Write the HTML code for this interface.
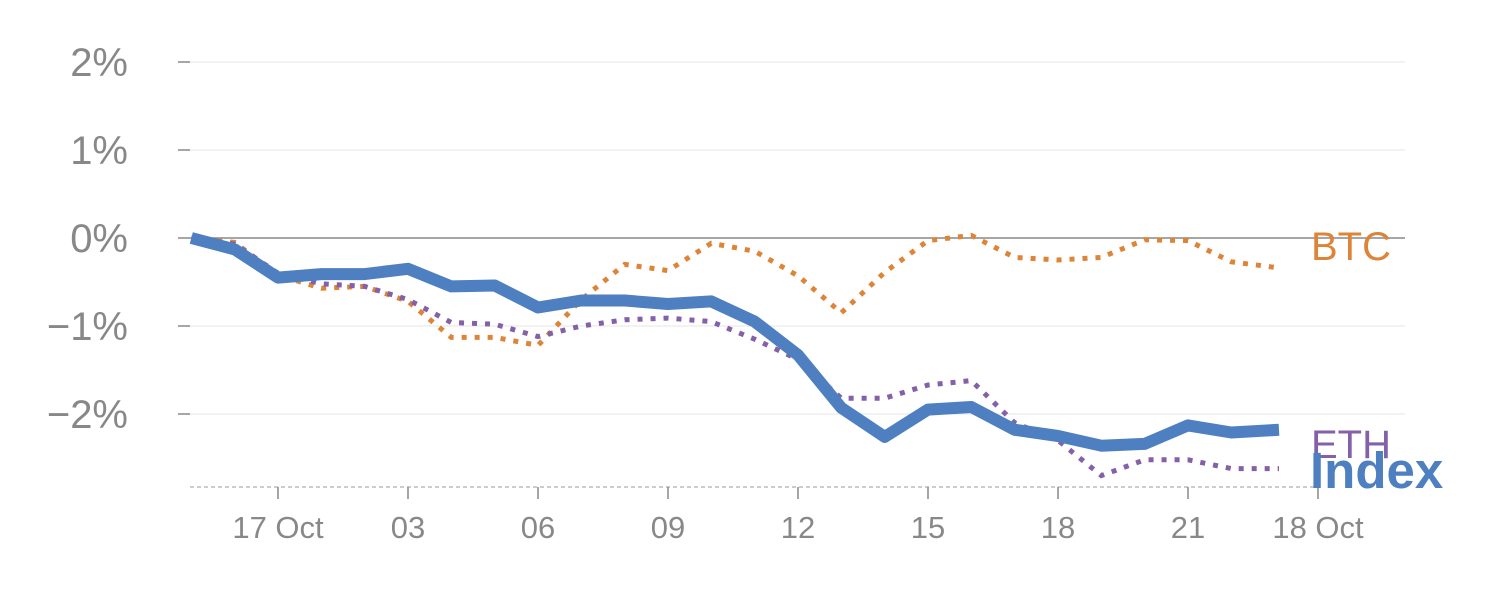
<!DOCTYPE html>
<html><head><meta charset="utf-8"><style>
html,body{margin:0;padding:0;background:#fff;}
svg{display:block;font-family:"Liberation Sans",Arial,sans-serif;}
</style></head><body>
<svg id="chart" width="1500" height="600"></svg>
<script>
const hours = [-2,-1,0,1,2,3,4,5,6,7,8,9,10,11,12,13,14,15,16,17,18,19,20,21,22,23.1];
const indexVals = [0,-0.13,-0.45,-0.41,-0.41,-0.35,-0.55,-0.54,-0.79,-0.71,-0.71,-0.75,-0.72,-0.95,-1.33,-1.93,-2.26,-1.95,-1.92,-2.18,-2.25,-2.36,-2.34,-2.13,-2.21,-2.18];
const btcVals = [0,-0.05,-0.42,-0.57,-0.55,-0.72,-1.13,-1.13,-1.22,-0.7,-0.3,-0.37,-0.06,-0.15,-0.43,-0.85,-0.39,-0.03,0.03,-0.22,-0.25,-0.22,-0.02,-0.03,-0.27,-0.34];
const ethVals = [0,-0.07,-0.40,-0.52,-0.55,-0.70,-0.96,-0.98,-1.12,-1.0,-0.93,-0.91,-0.95,-1.15,-1.38,-1.82,-1.82,-1.67,-1.62,-2.1,-2.3,-2.7,-2.52,-2.52,-2.62,-2.62];
const yTicks = [2,1,0,-1,-2];
const yTickLabels = ["2%","1%","0%","\u22121%","\u22122%"];
const xTicks = [0,3,6,9,12,15,18,21,24];
const xTickLabels = ["17 Oct","03","06","09","12","15","18","21","18 Oct"];

const NS="http://www.w3.org/2000/svg";
const svg=document.getElementById('chart');
const x=h=>278+h*(130/3);
const y=v=>238-v*88;
function el(t,a,p){const e=document.createElementNS(NS,t);for(const k in a)e.setAttribute(k,a[k]);(p||svg).appendChild(e);return e;}

yTicks.forEach((v,i)=>{
  const g=el('line',{x1:190,x2:1405,y1:y(v),y2:y(v),stroke:v===0?'#888':'#e6e6e6','stroke-width':v===0?1.5:1});
  
  
  const tk=el('line',{x1:178,x2:190,y1:y(v),y2:y(v),stroke:'#888','stroke-width':1.5});
  
  
  const t=el('text',{x:128,y:y(v)+14,'text-anchor':'end','font-size':40,fill:'#888'});
  t.textContent=yTickLabels[i];
  
  
});
const base=el('line',{x1:190,x2:1320,y1:487,y2:487,stroke:'#ccc','stroke-width':2,'stroke-dasharray':'4 3'});


xTicks.forEach((h,i)=>{
  const tk=el('line',{x1:x(h),x2:x(h),y1:487,y2:499,stroke:'#888','stroke-width':1.5});
  
  
  const t=el('text',{x:x(h),y:538,'text-anchor':'middle','font-size':31,fill:'#888'});
  t.textContent=xTickLabels[i];
  
  
});
function path(vals){return vals.map((v,i)=>(i?'L':'M')+x(hours[i]).toFixed(1)+','+y(v).toFixed(1)).join('');}
const btc=el('path',{d:path(btcVals),fill:'none',stroke:'#dd8437','stroke-width':5,'stroke-dasharray':'5 8'});


const eth=el('path',{d:path(ethVals),fill:'none',stroke:'#8360a8','stroke-width':5,'stroke-dasharray':'5 8'});


const idx=el('path',{d:path(indexVals),fill:'none',stroke:'#4e7fc0','stroke-width':12,'stroke-linejoin':'round'});



const l1=el('text',{x:1311,y:260,'font-size':40,fill:'#dd8437'});l1.textContent='BTC';


const l2=el('text',{x:1311,y:458,'font-size':40,fill:'#8360a8'});l2.textContent='ETH';


const l3=el('text',{x:1310,y:488,'font-size':51,'font-weight':'bold',fill:'#4e7fc0'});l3.textContent='Index';


</script>
</body></html>
